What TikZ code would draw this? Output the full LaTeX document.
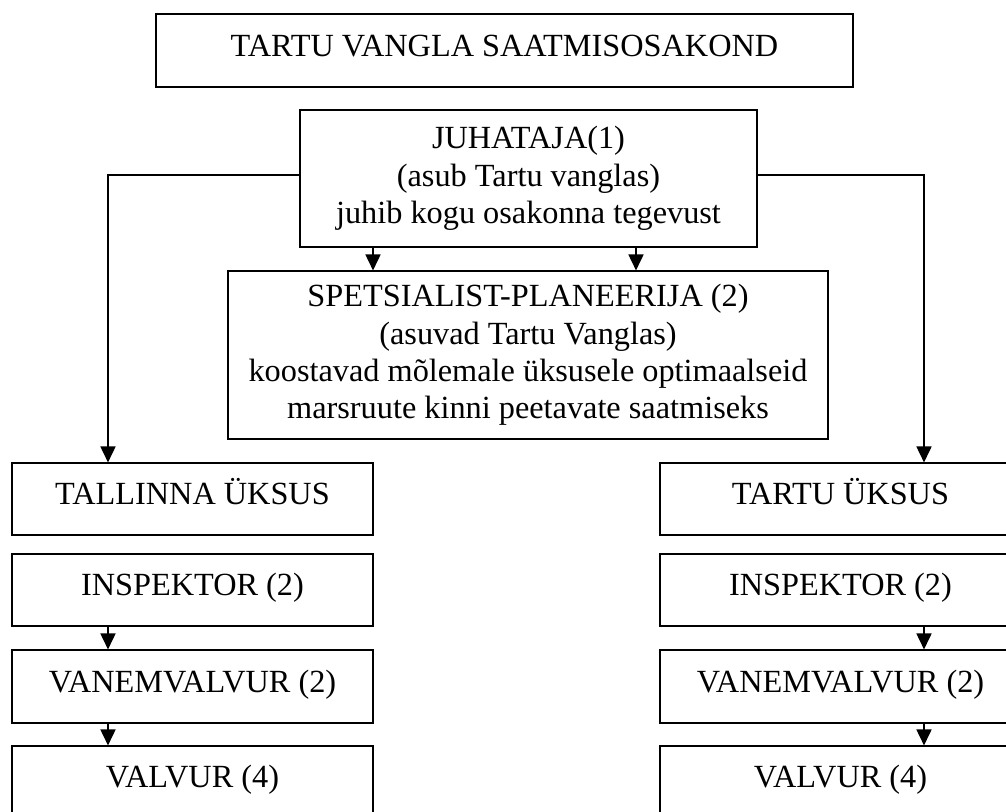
\documentclass[tikz,border=0pt]{standalone}
\usepackage{fontspec}
\setmainfont{Liberation Serif}
\usetikzlibrary{arrows.meta}
\begin{document}
\begin{tikzpicture}[x=1pt,y=-1pt,
  box/.style={draw=black, line width=1.1pt, rectangle, inner sep=0pt,
    font=\fontsize{32.3}{37.3}\selectfont, align=center},
  one/.style={box, text height=20pt, text depth=9pt},
  col/.style={one, minimum width=361pt},
  arr/.style={line width=1.7pt, -{Triangle[width=15pt,length=16pt]}},
]
\useasboundingbox (0,0) rectangle (1006,811);
\clip (0,0) rectangle (1006,811);

\node[one, minimum width=697pt, minimum height=73pt] (title) at (504.5,50.5) {TARTU VANGLA SAATMISOSAKOND};
\node[box, minimum width=457pt, minimum height=137pt] (juh) at (528.5,178.5)
  {JUHATAJA(1)\\(asub Tartu vanglas)\\juhib kogu osakonna tegevust};
\node[box, minimum width=600pt, minimum height=168pt] (spec) at (528,355)
  {SPETSIALIST-PLANEERIJA (2)\\(asuvad Tartu Vanglas)\\koostavad mõlemale üksusele optimaalseid\\marsruute kinni peetavate saatmiseks};

\node[col, minimum height=72pt] (ltal) at (192.5,499) {TALLINNA ÜKSUS};
\node[col, minimum height=72pt] (lins) at (192.5,590) {INSPEKTOR (2)};
\node[col, minimum height=73pt] (lvan) at (192.5,686.5) {VANEMVALVUR (2)};
\node[col, minimum height=72pt] (lval) at (192.5,782) {VALVUR (4)};

\node[col, minimum height=72pt] (rtar) at (840.5,499) {TARTU ÜKSUS};
\node[col, minimum height=72pt] (rins) at (840.5,590) {INSPEKTOR (2)};
\node[col, minimum height=73pt] (rvan) at (840.5,686.5) {VANEMVALVUR (2)};
\node[col, minimum height=72pt] (rval) at (840.5,782) {VALVUR (4)};

\coordinate (lcol) at (108,0);
\coordinate (rcol) at (924,0);
\coordinate (pa) at (373,0);
\coordinate (pb) at (636,0);

\draw[arr] (juh.south -| pa) -- (spec.north -| pa);
\draw[arr] (juh.south -| pb) -- (spec.north -| pb);
\draw[arr] ([yshift=3.5pt]juh.west) -| (lcol |- ltal.north);
\draw[arr] ([yshift=3.5pt]juh.east) -| (rcol |- rtar.north);

\draw[arr] (lins.south -| lcol) -- (lvan.north -| lcol);
\draw[arr] (lvan.south -| lcol) -- (lval.north -| lcol);
\draw[arr] (rins.south -| rcol) -- (rvan.north -| rcol);
\draw[arr] (rvan.south -| rcol) -- (rval.north -| rcol);
\end{tikzpicture}
\end{document}
